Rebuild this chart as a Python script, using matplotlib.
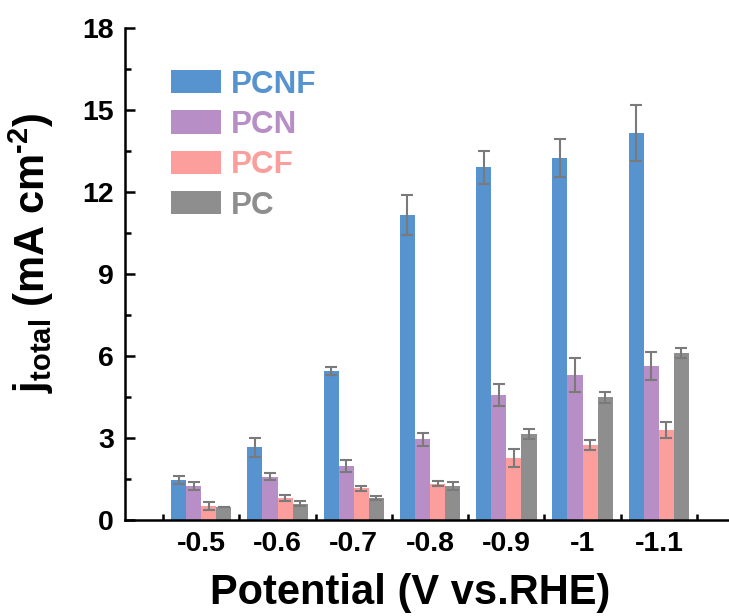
import numpy as np
import matplotlib
matplotlib.use("Agg")
import matplotlib.pyplot as plt
from matplotlib.ticker import MultipleLocator, FixedLocator

matplotlib.rcParams.update({
    "font.family": "Liberation Sans",
    "font.weight": "bold",
    "mathtext.fontset": "custom",
    "mathtext.rm": "Liberation Sans:bold",
    "mathtext.bf": "Liberation Sans:bold",
    "mathtext.it": "Liberation Sans:bold",
    "mathtext.default": "bf",
})

potentials = ["-0.5", "-0.6", "-0.7", "-0.8", "-0.9", "-1", "-1.1"]
series = ["PCNF", "PCN", "PCF", "PC"]
colors = ["#5793CE", "#B78FC6", "#FB9E9C", "#8E8E8E"]

pcnf = [1.46, 2.65, 5.44, 11.15, 12.9, 13.24, 14.17]
pcnf_err = [0.13, 0.33, 0.15, 0.73, 0.6, 0.7, 1.03]
pcn = [1.25, 1.58, 1.97, 2.95, 4.58, 5.31, 5.64]
pcn_err = [0.15, 0.12, 0.23, 0.24, 0.4, 0.63, 0.52]
pcf = [0.51, 0.8, 1.15, 1.33, 2.26, 2.74, 3.29]
pcf_err = [0.15, 0.1, 0.08, 0.1, 0.33, 0.18, 0.28]
pc = [0.49, 0.6, 0.8, 1.25, 3.14, 4.48, 6.1]
pc_err = [0.0, 0.1, 0.07, 0.15, 0.18, 0.2, 0.18]

values = [pcnf, pcn, pcf, pc]
errors = [pcnf_err, pcn_err, pcf_err, pc_err]

fig = plt.figure(figsize=(7.29, 6.16), dpi=100)
ax = fig.add_axes([0.1715, 0.156, 0.8285, 0.7985])

x = np.arange(len(potentials))
w = 0.198
for i in range(4):
    pos = x + (i - 1.5) * w
    ax.bar(pos, values[i], w, color=colors[i], label=series[i], zorder=2)
    ax.errorbar(pos, values[i], yerr=errors[i], fmt="none", ecolor="#7a7a7a",
                elinewidth=1.5, capsize=4, capthick=1.5, zorder=3)

ax.set_xlim(-1, 6.92)
ax.set_ylim(0, 18)
ax.spines["top"].set_visible(False)
ax.spines["right"].set_visible(False)
ax.spines["left"].set_linewidth(1.8)
ax.spines["bottom"].set_linewidth(1.8)

ax.set_xticks(x)
ax.set_xticklabels(potentials)
ax.xaxis.set_minor_locator(FixedLocator(np.arange(-0.5, 7, 1)))
ax.yaxis.set_major_locator(MultipleLocator(3))
ax.yaxis.set_minor_locator(MultipleLocator(1.5))
ax.tick_params(which="major", direction="in", length=7, width=1.8, labelsize=20.5, pad=8)
ax.tick_params(which="minor", direction="in", length=4, width=1.8)
for lab in ax.get_xticklabels() + ax.get_yticklabels():
    lab.set_fontweight("bold")

ax.set_xlabel("Potential (V vs.RHE)", fontsize=30, fontweight="bold")
ax.xaxis.set_label_coords(0.472, -0.108)
ax.set_ylabel("$j_{total}$ (mA cm$^{\u2010 2}$)", fontsize=30, fontweight="bold")
ax.yaxis.set_label_coords(-0.114, 0.543)

leg = ax.legend(loc="upper left", bbox_to_anchor=(0.029, 0.973), frameon=False,
                fontsize=22.6, handlelength=1.6, handleheight=0.76,
                handletextpad=0.32, labelspacing=0.33)
for t, c in zip(leg.get_texts(), colors):
    t.set_color(c)
    t.set_fontweight("bold")

fig.savefig("out.png", dpi=100)
